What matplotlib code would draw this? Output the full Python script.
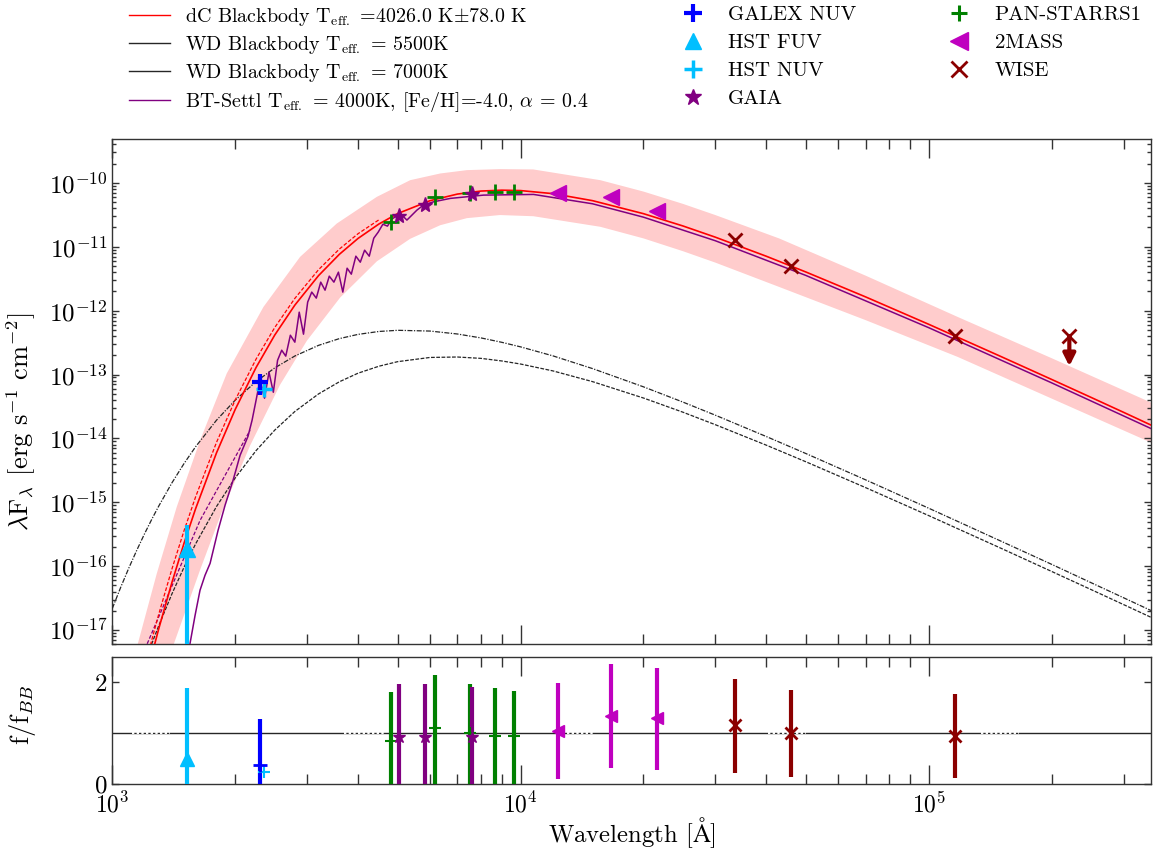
import numpy as np
import matplotlib
matplotlib.use("Agg")
import matplotlib.pyplot as plt
from matplotlib.lines import Line2D
from matplotlib.ticker import LogLocator, NullFormatter, NullLocator

plt.rcParams['font.family'] = ['cmr10', 'DejaVu Serif']
plt.rcParams['mathtext.fontset'] = 'cm'
plt.rcParams['axes.formatter.use_mathtext'] = True
plt.rcParams['axes.unicode_minus'] = False

# model curves, wavelength in Angstrom, lambda*F_lambda in erg/s/cm2
lam_model = [1000, 1050, 1100, 1150, 1200, 1250, 1300, 1400, 1500, 1600, 1800, 2000, 2250, 2500,
             2800, 3200, 3600, 4000, 4500, 5000, 6000, 7000, 8000, 9000, 10000, 12000, 15000,
             20000, 25000, 30000, 40000, 50000, 70000, 100000, 150000, 200000, 250000, 300000, 350000]
dc_bb = [7.9e-21, 3.56e-20, 1.39e-19, 4.78e-19, 1.47e-18, 4.11e-18, 1.06e-17, 5.59e-17, 2.33e-16,
         7.97e-16, 5.95e-15, 2.84e-14, 1.29e-13, 4.15e-13, 1.22e-12, 3.53e-12, 7.62e-12, 1.35e-11,
         2.27e-11, 3.3e-11, 5.25e-11, 6.66e-11, 7.43e-11, 7.67e-11, 7.56e-11, 6.77e-11, 5.26e-11,
         3.29e-11, 2.11e-11, 1.41e-11, 7.09e-12, 4.02e-12, 1.64e-12, 6.10e-13, 1.92e-13, 8.37e-14,
         4.37e-14, 2.56e-14, 1.62e-14]
wd7000 = [2.18e-17, 4.78e-17, 9.67e-17, 1.82e-16, 3.24e-16, 5.46e-16, 8.78e-16, 2.02e-15, 4.08e-15,
          7.42e-15, 1.93e-14, 3.97e-14, 7.76e-14, 1.27e-13, 1.95e-13, 2.86e-13, 3.65e-13, 4.25e-13,
          4.72e-13, 4.92e-13, 4.79e-13, 4.31e-13, 3.74e-13, 3.19e-13, 2.71e-13, 1.96e-13, 1.24e-13,
          6.42e-14, 3.7e-14, 2.31e-14, 1.07e-14, 5.8e-15, 2.25e-15, 8.08e-16, 2.48e-16, 1.07e-16,
          5.51e-17, 3.21e-17, 2.03e-17]
wd5500 = [8.06e-20, 2.31e-19, 5.94e-19, 1.4e-18, 3.04e-18, 6.18e-18, 1.18e-17, 3.7e-17, 9.75e-17,
          2.24e-16, 8.61e-16, 2.41e-15, 6.45e-15, 1.35e-14, 2.64e-14, 4.97e-14, 7.71e-14, 1.05e-13,
          1.35e-13, 1.59e-13, 1.85e-13, 1.88e-13, 1.79e-13, 1.63e-13, 1.46e-13, 1.14e-13, 7.75e-14,
          4.29e-14, 2.57e-14, 1.64e-14, 7.84e-15, 4.31e-15, 1.7e-15, 6.19e-16, 1.92e-16, 8.28e-17,
          4.3e-17, 2.51e-17, 1.59e-17]

lam_dc_hot = [1000, 1050, 1100, 1150, 1200, 1250, 1300, 1400, 1500, 1600, 1800, 2000, 2250, 2500,
              2800, 3200, 3600, 4000, 4500]
dc_bb_hot = [1.56e-20, 6.8e-20, 2.58e-19, 8.63e-19, 2.59e-18, 7.08e-18, 1.79e-17, 9.08e-17, 3.66e-16,
             1.22e-15, 8.68e-15, 3.99e-14, 1.745e-13, 5.45e-13, 1.555e-12, 4.37e-12, 9.2e-12,
             1.6e-11, 2.64e-11]

# uncertainty band of the dC fit
band_up_lam = [1000, 1152, 1285, 1438, 1641, 1907, 2345, 2884, 3548, 4446, 5366, 6357, 7390, 8900,
               10742, 15680, 20000, 25000, 30000, 42970, 70000, 117600, 200000, 353000]
band_up = [2.05e-19, 5.78e-18, 7.66e-17, 8.45e-16, 9.36e-15, 1.04e-13, 1.14e-12, 6.94e-12, 2.31e-11,
           6.03e-11, 1.10e-10, 1.40e-10, 1.58e-10, 1.64e-10, 1.62e-10, 1.10e-10, 7.3e-11, 4.68e-11,
           3.13e-11, 1.35e-11, 3.53e-12, 7.98e-13, 1.8e-13, 3.56e-14]
band_lo_lam = [1160, 1411, 1641, 1854, 2175, 2576, 2996, 3615, 4446, 5366, 6357, 7390, 8900, 10750,
               15680, 20000, 25000, 30000, 42970, 70000, 117600, 200000, 353000]
band_lo = [1.2e-19, 5.78e-18, 8.78e-17, 7.0e-16, 7.7e-15, 6.9e-14, 3.37e-13, 1.60e-12, 5.9e-12,
           1.33e-11, 2.17e-11, 2.8e-11, 3.13e-11, 3.0e-11, 2.05e-11, 1.35e-11, 8.5e-12, 5.64e-12,
           2.35e-12, 7.1e-13, 1.89e-13, 4.2e-14, 8.41e-15]

# BT-Settl spectrum (sampled by eye)
bt_lam = [1524, 1595, 1640, 1687, 1736, 1816, 1889, 1976, 2056, 2150, 2200, 2250, 2300, 2360, 2420,
          2480, 2540, 2600, 2660, 2730, 2800, 2870, 2940, 3010, 3080, 3160, 3240, 3320, 3400, 3490,
          3580, 3670, 3760, 3850, 3950, 4050, 4150, 4260, 4370, 4480, 4600, 4720, 4840, 4960, 5072,
          5268, 5574, 5784, 6120, 6724, 8117, 10760, 15000, 20000, 30000, 50000, 100000, 200000, 350000]
bt_flux = [3.37e-18, 1.70e-17, 4.20e-17, 7.21e-17, 1.11e-16, 3.65e-16, 9.0e-16, 2.21e-15, 5.45e-15,
           1.08e-14, 1.93e-14, 3.96e-14, 8.15e-14, 4.26e-14, 1.09e-13, 5.28e-14, 1.67e-13, 2.40e-13,
           1.94e-13, 4.12e-13, 3.21e-13, 9.46e-13, 4.28e-13, 1.36e-12, 1.95e-12, 1.57e-12, 2.79e-12,
           2.09e-12, 3.46e-12, 2.79e-12, 4.0e-12, 1.95e-12, 4.61e-12, 3.72e-12, 7.11e-12, 5.73e-12,
           8.83e-12, 7.11e-12, 1.36e-11, 1.69e-11, 2.25e-11, 2.10e-11, 2.70e-11, 3.01e-11, 3.32e-11,
           2.61e-11, 3.74e-11, 4.48e-11, 5.04e-11, 5.70e-11, 6.42e-11, 6.58e-11, 4.7e-11, 2.9e-11,
           1.24e-11, 3.55e-12, 5.4e-13, 7.4e-14, 1.43e-14]
bt_dash_lam = [1130, 1216, 1641, 2175]
bt_dash_flux = [2e-18, 6e-18, 5.24e-16, 1.34e-14]

# photometry
galex_lam, galex_f = [2300], [7.66e-14]
galex_err = [[2.9e-14], [1.5e-14]]
fuv_lam, fuv_f = [1527], [1.89e-16]
fuv_err = [[1.88e-16], [2.5e-16]]
nuv_lam, nuv_f = [2355], [6.04e-14]
gaia_lam = [5040, 5820, 7620]
gaia_f = [3.01e-11, 4.5e-11, 6.7e-11]
ps1_lam = [4810, 6170, 7520, 8660, 9620]
ps1_f = [2.4e-11, 5.9e-11, 6.97e-11, 7.1e-11, 7.1e-11]
tmass_lam = [12350, 16620, 21590]
tmass_f = [6.83e-11, 6.0e-11, 3.67e-11]
wise_lam = [33526, 46028, 115608]
wise_f = [1.27e-11, 4.97e-12, 3.98e-13]
w4_lam, w4_f, w4_tip = 220883, 3.98e-13, 1.35e-13

# residuals f/f_BB
r_fuv, r_fuv_err = [0.49], [[0.49], [1.40]]
r_galex, r_galex_err = [0.37], [[0.37], [0.90]]
r_nuv = [0.24]
r_ps1 = [0.84, 1.09, 0.99, 0.93, 0.93]
r_ps1_top = [1.80, 2.15, 1.97, 1.89, 1.83]
r_gaia = [0.91, 0.91, 0.91]
r_gaia_top = [1.97, 1.97, 1.91]
r_tmass = [1.03, 1.33, 1.29]
r_tmass_top = [1.99, 2.35, 2.27]
r_tmass_bot = [0.09, 0.31, 0.27]
r_wise = [1.15, 0.99, 0.93]
r_wise_top = [2.07, 1.84, 1.76]
r_wise_bot = [0.22, 0.14, 0.12]
gap_segments = [(1115, 1385), (3693, 4634), (12980, 15210), (40450, 49970), (133900, 166200)]

fig = plt.figure(figsize=(11.6, 8.55), dpi=100)
ax = fig.add_axes([0.0968, 0.2464, 0.8954, 0.5907])
axr = fig.add_axes([0.0968, 0.0834, 0.8954, 0.1485])

ax.fill(np.r_[band_up_lam, band_lo_lam[::-1]], np.r_[band_up, band_lo[::-1]],
        color='red', alpha=0.2, lw=0, zorder=1)
l_dc, = ax.plot(lam_model, dc_bb, color='red', lw=1.2, zorder=4)
ax.plot(lam_dc_hot, dc_bb_hot, color='red', lw=0.9, ls=(0, (3, 1.5)), zorder=4)
l_w55, = ax.plot(lam_model, wd5500, color='0.15', lw=0.9, ls=(0, (3, 1.2)), zorder=3)
l_w7, = ax.plot(lam_model, wd7000, color='0.15', lw=0.9, ls=(0, (4, 1.2, 1, 1.2)), zorder=3)
l_bt, = ax.plot(bt_lam, bt_flux, color='purple', lw=1.1, zorder=3)
ax.plot(bt_dash_lam, bt_dash_flux, color='purple', lw=0.9, ls=(0, (3, 1.5)), zorder=3)

ax.errorbar(fuv_lam, fuv_f, yerr=fuv_err, fmt='^', color='deepskyblue', ms=11, elinewidth=3, capsize=0, zorder=6)
ax.errorbar(galex_lam, galex_f, yerr=galex_err, fmt='+', color='blue', ms=12, mew=3, elinewidth=3, capsize=0, zorder=6)
ax.plot(nuv_lam, nuv_f, '+', color='deepskyblue', ms=12, mew=2.5, zorder=6)
ax.plot(ps1_lam, ps1_f, '+', color='green', ms=11, mew=2, zorder=6)
ax.plot(gaia_lam, gaia_f, '*', color='purple', ms=11, zorder=6)
ax.plot(tmass_lam, tmass_f, '<', color='m', ms=12, zorder=6)
ax.plot(wise_lam, wise_f, 'x', color='darkred', ms=10, mew=2, zorder=6)
ax.plot([w4_lam], [w4_f], 'x', color='darkred', ms=10, mew=2, zorder=6)
ax.annotate('', xy=(w4_lam, w4_tip), xytext=(w4_lam, w4_f),
            arrowprops=dict(arrowstyle='-|>', color='darkred', lw=3, mutation_scale=18,
                            shrinkA=0, shrinkB=0), zorder=6)

ax.set_xscale('log')
ax.set_yscale('log')
ax.set_xlim(1000, 3.5e5)
ax.set_ylim(6e-18, 4.8e-10)
ax.set_ylabel(r'$\lambda$F$_\lambda$ [erg s$^{-1}$ cm$^{-2}$]', fontsize=19)
ax.yaxis.set_label_coords(-0.0715, 0.44)
ax.yaxis.set_major_locator(LogLocator(base=10, numticks=20))
ax.yaxis.set_minor_locator(LogLocator(base=10, subs=np.arange(2, 10), numticks=100))
ax.xaxis.set_major_locator(LogLocator(base=10, numticks=10))
ax.xaxis.set_minor_locator(LogLocator(base=10, subs=np.arange(2, 10), numticks=100))
ax.xaxis.set_major_formatter(NullFormatter())
ax.xaxis.set_minor_formatter(NullFormatter())

# residual panel
axr.axhline(1, color='0.15', lw=1.0, zorder=1)
for a, b in gap_segments:
    axr.plot([a, b], [1, 1], color='white', lw=1.4, ls=(0, (1.2, 1.2)), zorder=2)
axr.errorbar(fuv_lam, r_fuv, yerr=r_fuv_err, fmt='^', color='deepskyblue', ms=10, elinewidth=3, capsize=0, zorder=5)
axr.errorbar(galex_lam, r_galex, yerr=r_galex_err, fmt='+', color='blue', ms=10, mew=2, elinewidth=3, capsize=0, zorder=5)
axr.plot(nuv_lam, r_nuv, '+', color='deepskyblue', ms=9, mew=1.5, zorder=5)
axr.errorbar(ps1_lam, r_ps1, yerr=[r_ps1, np.subtract(r_ps1_top, r_ps1)], fmt='+', color='green',
             ms=9, mew=1.5, elinewidth=3, capsize=0, zorder=5)
axr.errorbar(gaia_lam, r_gaia, yerr=[r_gaia, np.subtract(r_gaia_top, r_gaia)], fmt='*', color='purple',
             ms=9, elinewidth=3, capsize=0, zorder=5)
axr.errorbar(tmass_lam, r_tmass, yerr=[np.subtract(r_tmass, r_tmass_bot), np.subtract(r_tmass_top, r_tmass)],
             fmt='<', color='m', ms=9, elinewidth=3, capsize=0, zorder=5)
axr.errorbar(wise_lam, r_wise, yerr=[np.subtract(r_wise, r_wise_bot), np.subtract(r_wise_top, r_wise)],
             fmt='x', color='darkred', ms=9, mew=2, elinewidth=3, capsize=0, zorder=5)
axr.set_xscale('log')
axr.set_xlim(1000, 3.5e5)
axr.set_ylim(0, 2.5)
axr.set_yticks([0, 2])
axr.yaxis.set_minor_locator(NullLocator())
axr.xaxis.set_major_locator(LogLocator(base=10, numticks=10))
axr.xaxis.set_minor_locator(LogLocator(base=10, subs=np.arange(2, 10), numticks=100))
axr.xaxis.set_minor_formatter(NullFormatter())
axr.set_ylabel(r'f/f$_{BB}$', fontsize=19)
axr.yaxis.set_label_coords(-0.0715, 0.54)
axr.set_xlabel(r'Wavelength [$\mathrm{\AA}$]', fontsize=17.8, labelpad=-2)

for a in (ax, axr):
    for s in a.spines.values():
        s.set_linewidth(1.0)
        s.set_color('0.2')
    a.tick_params(which='both', direction='in', top=True, right=True, labelsize=17, width=1.0, color='0.2')
    a.tick_params(axis='y', labelsize=18)
    a.tick_params(axis='x', which='major', length=14)
    a.tick_params(axis='x', which='minor', length=7)
    a.tick_params(axis='y', which='major', length=5)
    a.tick_params(axis='y', which='minor', length=3)
axr.tick_params(axis='x', which='major', pad=6)

# legends
leg1 = fig.legend([l_dc, l_w55, l_w7, l_bt],
                  [r'dC Blackbody T$_{\rm eff.}$ =4026.0 K$\pm$78.0 K',
                   r'WD Blackbody T$_{\rm eff.}$ = 5500K',
                   r'WD Blackbody T$_{\rm eff.}$ = 7000K',
                   r'BT-Settl T$_{\rm eff.}$ = 4000K, [Fe/H]=-4.0, $\alpha$ = 0.4'],
                  loc='upper left', bbox_to_anchor=(0.1109, 0.993), frameon=False, fontsize=14.4,
                  borderpad=0, borderaxespad=0, handlelength=2.05, handletextpad=0.78, labelspacing=0.3)
for h in leg1.get_lines():
    h.set_linestyle('-')
    h.set_linewidth(1.0)

h2 = [Line2D([], [], ls='none', marker='+', color='blue', ms=13, mew=3),
      Line2D([], [], ls='none', marker='^', color='deepskyblue', ms=12),
      Line2D([], [], ls='none', marker='+', color='deepskyblue', ms=13, mew=2.5),
      Line2D([], [], ls='none', marker='*', color='purple', ms=12)]
fig.legend(h2, ['GALEX NUV', 'HST FUV', 'HST NUV', 'GAIA'], loc='upper left',
           bbox_to_anchor=(0.5837, 0.9932), frameon=False, fontsize=15, borderpad=0, borderaxespad=0,
           handlelength=1.5, handletextpad=0.96, labelspacing=0.45)
h3 = [Line2D([], [], ls='none', marker='+', color='green', ms=12, mew=2.2),
      Line2D([], [], ls='none', marker='<', color='m', ms=13),
      Line2D([], [], ls='none', marker='x', color='darkred', ms=11, mew=2)]
fig.legend(h3, ['PAN-STARRS1', '2MASS', 'WISE'], loc='upper left',
           bbox_to_anchor=(0.8133, 0.9932), frameon=False, fontsize=15, borderpad=0, borderaxespad=0,
           handlelength=1.5, handletextpad=0.96, labelspacing=0.45)

fig.savefig('out.png', dpi=100)
